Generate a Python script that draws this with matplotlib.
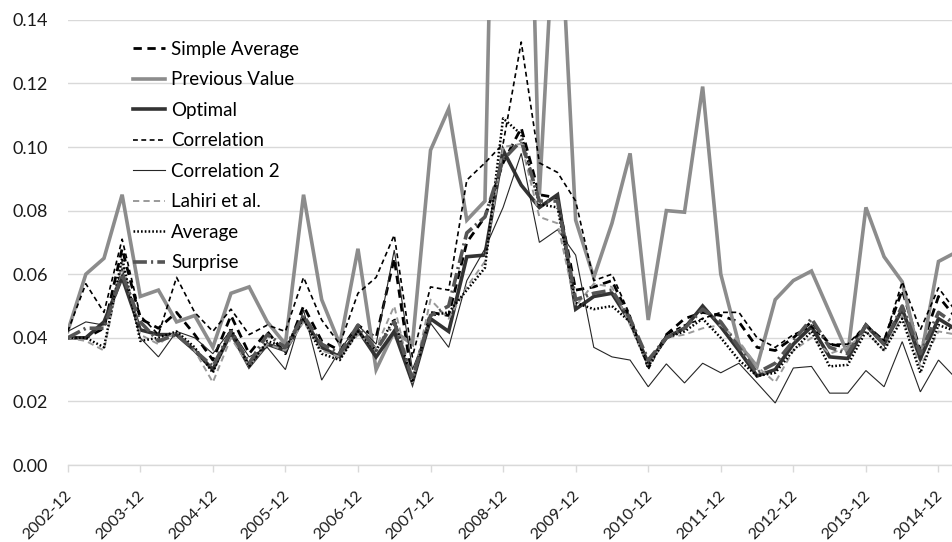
import matplotlib
matplotlib.use("Agg")
import matplotlib.pyplot as plt
import matplotlib.transforms as mtransforms
import pandas as pd

plt.rcParams['font.family'] = ['Lato', 'DejaVu Sans']
plt.rcParams['lines.scale_dashes'] = False

dates = pd.period_range('2002Q4', '2015Q1', freq='Q')
labels = [f"{p.year}-{p.month:02d}" for p in dates.asfreq('M', 'end')]
tick_labels = ["2002-12", "2003-12", "2004-12", "2005-12", "2006-12", "2007-12",
               "2008-12", "2009-12", "2010-12", "2011-12", "2012-12", "2013-12", "2014-12"]

simple_average = [0.040, 0.040, 0.043, 0.068, 0.046, 0.043, 0.048, 0.041, 0.033, 0.047,
                  0.035, 0.042, 0.035, 0.050, 0.039, 0.036, 0.044, 0.040, 0.065, 0.026,
                  0.048, 0.047, 0.070, 0.078, 0.095, 0.106, 0.085, 0.084, 0.055, 0.056,
                  0.058, 0.046, 0.031, 0.041, 0.046, 0.048, 0.047, 0.045, 0.037, 0.036,
                  0.040, 0.045, 0.038, 0.037, 0.044, 0.039, 0.055, 0.036, 0.053, 0.046]
previous_value = [0.042, 0.060, 0.065, 0.085, 0.053, 0.055, 0.045, 0.047, 0.037, 0.054,
                  0.056, 0.045, 0.038, 0.085, 0.052, 0.038, 0.068, 0.030, 0.042, 0.038,
                  0.099, 0.112, 0.077, 0.083, 0.350, 0.300, 0.085, 0.190, 0.077, 0.059,
                  0.076, 0.098, 0.0456, 0.080, 0.0795, 0.119, 0.060, 0.038, 0.031, 0.052,
                  0.058, 0.061, 0.048, 0.035, 0.081, 0.0655, 0.0576, 0.033, 0.064, 0.067]
optimal = [0.040, 0.040, 0.045, 0.059, 0.0425, 0.041, 0.041, 0.036, 0.030, 0.0415,
           0.031, 0.038, 0.036, 0.046, 0.037, 0.034, 0.0425, 0.034, 0.042, 0.026,
           0.046, 0.042, 0.0655, 0.066, 0.099, 0.088, 0.081, 0.085, 0.049, 0.053,
           0.054, 0.045, 0.032, 0.040, 0.043, 0.050, 0.0435, 0.036, 0.028, 0.030,
           0.038, 0.0435, 0.034, 0.0335, 0.044, 0.038, 0.049, 0.0335, 0.046, 0.0425]
correlation = [0.042, 0.057, 0.048, 0.071, 0.047, 0.041, 0.059, 0.048, 0.042, 0.049,
               0.041, 0.044, 0.042, 0.059, 0.0456, 0.038, 0.054, 0.059, 0.0723, 0.034,
               0.056, 0.055, 0.0896, 0.095, 0.101, 0.133, 0.095, 0.092, 0.083, 0.058,
               0.060, 0.047, 0.030, 0.041, 0.044, 0.046, 0.048, 0.048, 0.040, 0.037,
               0.041, 0.0435, 0.038, 0.038, 0.044, 0.039, 0.0576, 0.0425, 0.0557, 0.048]
correlation_2 = [0.042, 0.045, 0.044, 0.062, 0.040, 0.034, 0.042, 0.040, 0.035, 0.0425,
                 0.034, 0.037, 0.030, 0.0487, 0.0267, 0.036, 0.044, 0.038, 0.0676, 0.030,
                 0.0446, 0.037, 0.058, 0.068, 0.081, 0.098, 0.070, 0.074, 0.066, 0.037,
                 0.034, 0.033, 0.0246, 0.0318, 0.0258, 0.032, 0.029, 0.032, 0.0258, 0.0195,
                 0.0305, 0.031, 0.0226, 0.0226, 0.0297, 0.0246, 0.0388, 0.023, 0.033, 0.027]
lahiri = [0.040, 0.039, 0.036, 0.064, 0.041, 0.038, 0.042, 0.036, 0.026, 0.040,
          0.031, 0.038, 0.036, 0.045, 0.036, 0.034, 0.041, 0.037, 0.050, 0.026,
          0.052, 0.046, 0.056, 0.064, 0.100, 0.101, 0.078, 0.076, 0.050, 0.057,
          0.056, 0.044, 0.031, 0.040, 0.041, 0.043, 0.044, 0.039, 0.031, 0.026,
          0.036, 0.040, 0.035, 0.037, 0.042, 0.036, 0.047, 0.031, 0.042, 0.041]
average = [0.040, 0.040, 0.037, 0.065, 0.039, 0.040, 0.042, 0.037, 0.029, 0.043,
           0.031, 0.039, 0.037, 0.046, 0.035, 0.033, 0.042, 0.036, 0.046, 0.026,
           0.047, 0.048, 0.055, 0.062, 0.109, 0.104, 0.082, 0.081, 0.051, 0.049,
           0.050, 0.045, 0.031, 0.040, 0.042, 0.046, 0.040, 0.033, 0.028, 0.029,
           0.036, 0.042, 0.031, 0.0315, 0.042, 0.036, 0.046, 0.029, 0.044, 0.042]
surprise = [0.040, 0.043, 0.043, 0.060, 0.045, 0.039, 0.041, 0.036, 0.031, 0.042,
            0.032, 0.041, 0.037, 0.047, 0.038, 0.035, 0.044, 0.036, 0.045, 0.027,
            0.047, 0.050, 0.073, 0.078, 0.096, 0.102, 0.083, 0.083, 0.052, 0.054,
            0.055, 0.046, 0.033, 0.040, 0.043, 0.049, 0.045, 0.037, 0.029, 0.032,
            0.039, 0.046, 0.037, 0.035, 0.044, 0.038, 0.050, 0.035, 0.048, 0.044]

series = [
    ("Simple Average", simple_average, dict(color='black', lw=2.0, dashes=(6, 4))),
    ("Previous Value", previous_value, dict(color='#8c8c8c', lw=2.6)),
    ("Optimal", optimal, dict(color='#333333', lw=2.6)),
    ("Correlation", correlation, dict(color='black', lw=1.2, dashes=(3.5, 2.5))),
    ("Correlation 2", correlation_2, dict(color='#262626', lw=0.8)),
    ("Lahiri et al.", lahiri, dict(color='#9a9a9a', lw=1.4, dashes=(4.5, 3))),
    ("Average", average, dict(color='black', lw=1.8, dashes=(1.2, 1.5))),
    ("Surprise", surprise, dict(color='#555555', lw=2.6, dashes=(10, 3, 1.5, 3))),
]

fig = plt.figure(figsize=(9.53, 5.42), dpi=100)
ax = fig.add_axes([67.7 / 953, 1 - 465 / 542, 1 - 67.7 / 953, (465 - 19.8) / 542])

x = list(range(len(labels)))
for name, vals, kw in series:
    ax.plot(x, vals, label=name, solid_joinstyle='miter', **kw)

ax.set_ylim(0, 0.14)
ax.set_xlim(0, 48.8)
ax.set_yticks([0.00, 0.02, 0.04, 0.06, 0.08, 0.10, 0.12, 0.14])
ax.set_yticklabels([f"{v:.2f}" for v in ax.get_yticks()])
ax.yaxis.grid(True, color='#d9d9d9', lw=1.0)
ax.set_axisbelow(True)
ax.tick_params(axis='y', length=0, pad=14, labelsize=13, labelcolor='#1a1a1a')

tick_pos = [labels.index(t) for t in tick_labels]
ax.set_xticks(tick_pos)
ax.set_xticklabels(tick_labels, rotation=45, ha='right', va='center', rotation_mode='anchor')
ax.tick_params(axis='x', length=5, color='#d9d9d9', width=1, pad=12, labelsize=11.5, labelcolor='#1a1a1a')
shift = mtransforms.ScaledTranslation(2 / 100, -5 / 100, fig.dpi_scale_trans)
for lab in ax.get_xticklabels():
    lab.set_transform(lab.get_transform() + shift)

for s in ['top', 'right', 'left']:
    ax.spines[s].set_visible(False)
ax.spines['bottom'].set_color('#d9d9d9')
ax.spines['bottom'].set_linewidth(1)

leg = ax.legend(loc='upper left', bbox_to_anchor=(0.074, 0.953), frameon=False,
                fontsize=13.5, handlelength=1.7, handletextpad=0.32, labelspacing=0.72,
                borderpad=0, borderaxespad=0)

fig.savefig('out.png', dpi=100)
